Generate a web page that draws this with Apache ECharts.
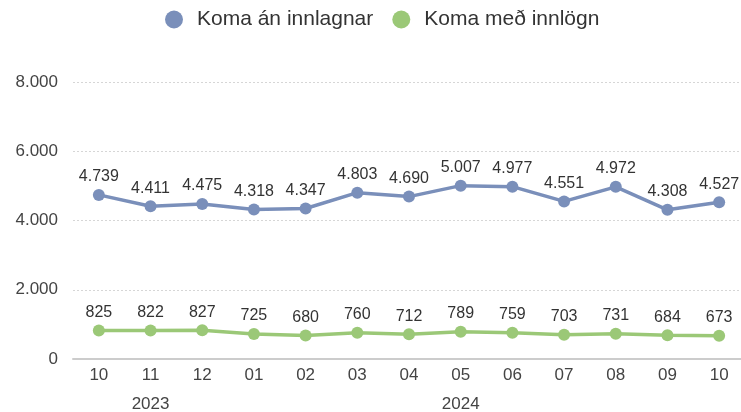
<!DOCTYPE html>
<html>
<head>
<meta charset="utf-8">
<script src="https://cdn.jsdelivr.net/npm/echarts@6/dist/echarts.min.js"></script>
<style>
  html, body { margin: 0; padding: 0; background: #fff; }
  #chart { width: 741px; height: 412px; }
</style>
</head>
<body>
<div id="chart"></div>
<script>
// mánuðir, okt 2023 - okt 2024
const months = ['10', '11', '12', '01', '02', '03', '04', '05', '06', '07', '08', '09', '10'];
const years = ['', '2023', '', '', '', '', '', '2024', '', '', '', '', ''];
const komaAn = [4739, 4411, 4475, 4318, 4347, 4803, 4690, 5007, 4977, 4551, 4972, 4308, 4527];
const komaMed = [825, 822, 827, 725, 680, 760, 712, 789, 759, 703, 731, 684, 673];

const blue = '#7a8fba';
const green = '#9bc877';
const textColor = '#333';
const axisLabelColor = '#444';
const fontFamily = 'Liberation Sans, Arial, sans-serif';

const fmt = (v) => String(v).replace(/\B(?=(\d{3})+(?!\d))/g, '.');

const chart = echarts.init(document.getElementById('chart'));

const lineSeries = (name, data, color) => ({
  name: name,
  type: 'line',
  data: data,
  symbol: 'circle',
  symbolSize: 12,
  color: color,
  lineStyle: { width: 3.5, color: color },
  label: {
    show: true,
    position: 'top',
    distance: 4,
    color: textColor,
    fontSize: 16,
    fontFamily: fontFamily,
    formatter: (p) => fmt(p.value),
  },
});

chart.setOption({
  animation: false,
  legend: {
    top: 4,
    left: 160,
    icon: 'circle',
    itemWidth: 18,
    itemHeight: 18,
    itemGap: 19,
    textStyle: { color: textColor, fontSize: 21, fontFamily: fontFamily, padding: [0, 0, 0, 9] },
    data: ['Koma án innlagnar', 'Koma með innlögn'],
  },
  grid: { left: 73, top: 82, width: 672, height: 277, outerBoundsMode: 'none', containLabel: false },
  xAxis: [
    {
      type: 'category',
      data: months,
      axisLine: { lineStyle: { color: '#cccccc', width: 2 } },
      axisTick: { show: false },
      axisLabel: { color: axisLabelColor, fontSize: 17, fontFamily: fontFamily, margin: 8 },
    },
    {
      type: 'category',
      data: years,
      position: 'bottom',
      offset: 29,
      axisLine: { show: false },
      axisTick: { show: false },
      axisLabel: { color: axisLabelColor, fontSize: 17, fontFamily: fontFamily, margin: 8 },
    },
  ],
  yAxis: {
    type: 'value',
    min: 0,
    max: 8000,
    interval: 2000,
    axisLine: { show: false },
    axisTick: { show: false },
    axisLabel: {
      color: axisLabelColor,
      fontSize: 17,
      fontFamily: fontFamily,
      margin: 15,
      formatter: fmt,
    },
    splitLine: { lineStyle: { color: '#d6d6d6', type: [2, 2], width: 1 } },
  },
  series: [
    lineSeries('Koma án innlagnar', komaAn, blue),
    lineSeries('Koma með innlögn', komaMed, green),
  ],
});
</script>
</body>
</html>
